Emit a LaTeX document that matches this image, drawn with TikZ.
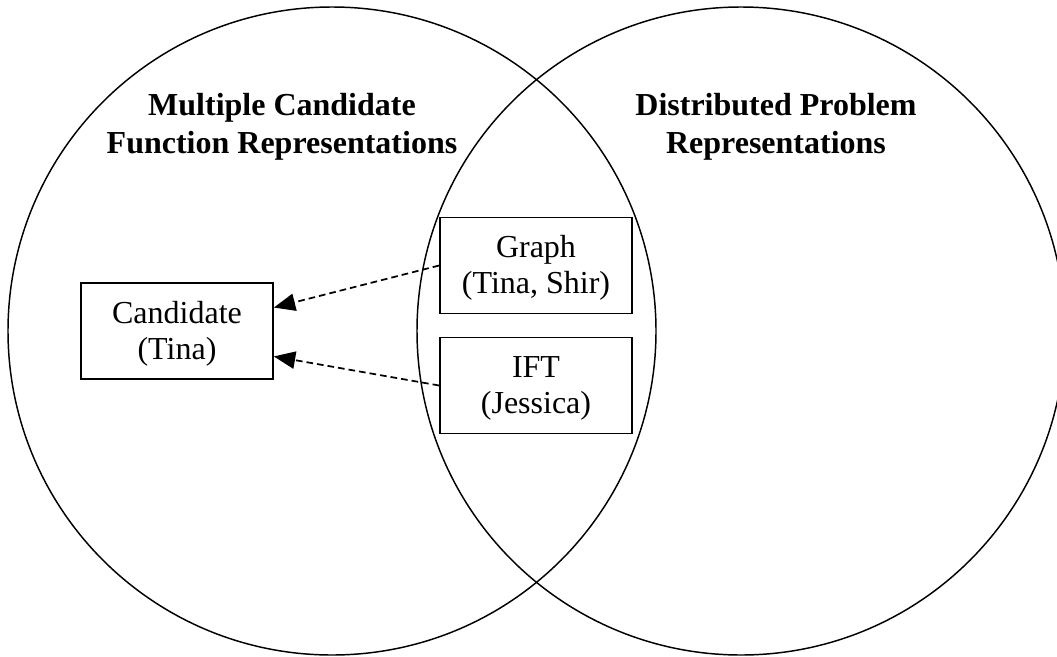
\documentclass[tikz,border=0pt]{standalone}
\usepackage{fontspec}
\setmainfont{Liberation Serif}
\usetikzlibrary{arrows.meta,calc}
\tikzset{
  venn/.style={draw=black,line width=1.1pt},
  title/.style={align=center,font=\fontsize{24}{28.5}\selectfont\bfseries,inner sep=0pt},
  rbox/.style={draw=black,line width=1.3pt,minimum width=144pt,minimum height=72pt,align=center,font=\fontsize{24}{27}\selectfont,inner sep=0pt,text height=46pt,text depth=4pt},
  link/.style={line width=1.3pt,dash pattern=on 5pt off 3pt,-{Triangle[length=16pt,width=13pt]}}
}
\begin{document}
\begin{tikzpicture}[x=0.75pt,y=-0.75pt]
\clip (0,0) rectangle (1057,657);
\fill[white] (0,0) rectangle (1057,657);
\draw[venn] (332,331) circle [radius=243pt];
\draw[venn] (741,331) circle [radius=243pt];
\node[title] (tl) at (282,127) {Multiple Candidate\\Function Representations};
\node[title] (tr) at (776,127) {Distributed Problem\\Representations};
\node[rbox] (cand) at (177,331) {Candidate\\(Tina)};
\node[rbox] (graph) at (536,265.5) {Graph\\(Tina, Shir)};
\node[rbox] (ift) at (536,385.5) {IFT\\(Jessica)};
\draw[link] (graph.west) -- ($(cand.north east)!0.26!(cand.south east)$);
\draw[link] (ift.west) -- ($(cand.north east)!0.76!(cand.south east)$);
\end{tikzpicture}
\end{document}
